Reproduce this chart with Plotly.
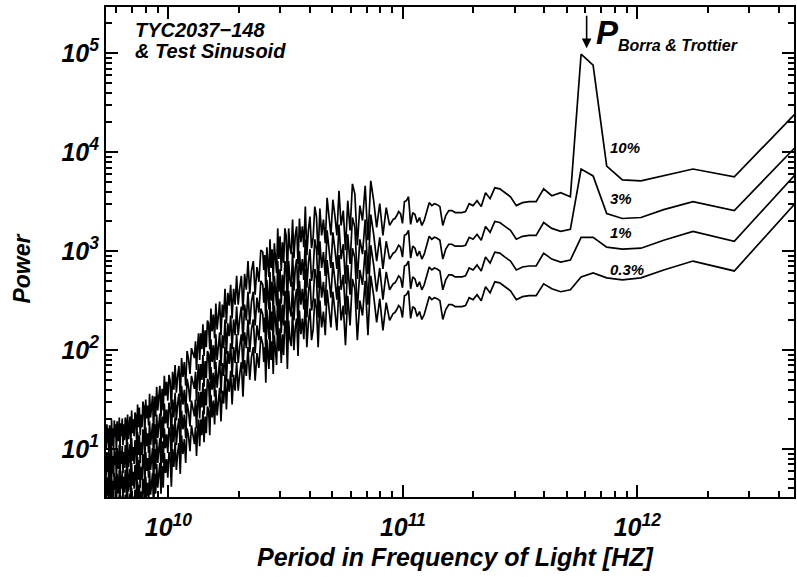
import plotly.graph_objects as go

# ---------------- data ----------------
F0 = 5.18e12  # frequency of harmonic 1 (Hz); harmonic k sits at F0 / k

harmonic = (list(range(1, 58)) + list(range(59, 102, 2)) + list(range(103, 206, 2))
            + list(range(209, 402, 4)) + list(range(413, 966, 6)))

# log10(Power)
logp_10 = [
    4.49, 3.75, 3.83, 3.76, 3.71, 3.72, 3.86, 4.88, 4.99, 3.55,
    3.59, 3.56, 3.63, 3.50, 3.50, 3.49, 3.46, 3.55, 3.59, 3.63,
    3.64, 3.53, 3.59, 3.45, 3.51, 3.46, 3.48, 3.40, 3.39, 3.39,
    3.39, 3.41, 3.41, 3.36, 3.26, 3.45, 3.47, 3.48, 3.46, 3.49,
    3.40, 3.31, 3.26, 3.34, 3.29, 3.37, 3.39, 3.27, 3.55, 3.51,
    3.50, 3.28, 3.38, 3.40, 3.36, 3.33, 3.32,
    3.26, 3.44, 3.16, 3.48, 3.24, 3.51, 3.71, 3.11, 3.66, 3.31, 3.46,
    3.06, 3.58, 3.68, 3.21, 3.51, 3.01, 3.41, 3.26, 3.61, 3.16, 3.36,
    3.52, 3.16, 3.38, 3.54, 3.08, 3.32, 3.16, 3.43, 2.96, 3.35,
    3.45, 3.14, 3.03, 3.35, 3.21, 2.96, 3.45, 3.04, 3.25, 3.09,
    3.33, 2.87, 3.25, 3.16, 2.93, 3.32, 2.97, 3.04, 3.23, 2.74,
    3.16, 3.23, 2.88, 3.09, 2.80, 3.15, 2.92, 3.23, 2.78, 2.99,
    3.08, 2.69, 3.02, 2.83, 3.12, 2.74, 2.93, 3.04, 2.60, 2.96,
    2.81, 2.99,
    3.01, 2.69, 2.84, 2.56, 2.90, 2.80, 2.57, 2.90, 2.61, 2.77,
    2.40, 2.75, 2.63, 2.46, 2.75, 2.46, 2.62, 2.32, 2.66, 2.45,
    2.58, 2.27, 2.62, 2.33, 2.46, 2.15, 2.49, 2.38, 2.21, 2.47,
    2.12, 2.36, 2.19, 2.42, 2.01, 2.27, 2.30, 2.03, 2.20, 1.94,
    2.26, 2.01, 2.17, 1.90, 2.17, 2.04, 1.80, 2.09, 1.92,
    2.02, 1.76, 1.91, 1.99, 1.64, 1.88, 1.73, 1.92, 1.53, 1.84,
    1.74, 1.57, 1.85, 1.60, 1.78, 1.40, 1.69, 1.75, 1.49, 1.68,
    1.54, 1.74, 1.39, 1.61, 1.33, 1.64, 1.53, 1.39, 1.63, 1.33,
    1.53, 1.16, 1.54, 1.46, 1.32, 1.56, 1.24, 1.44, 1.31, 1.50,
    1.14, 1.43, 1.48, 1.22, 1.35, 1.14, 1.42, 1.22, 1.45, 1.04,
    1.34, 1.37, 1.13, 1.30, 1.16, 1.39, 1.05, 1.33, 1.23, 1.10,
    1.35, 0.95, 1.28, 1.32, 1.09, 1.25, 1.04, 1.31, 1.13, 1.26,
    0.98, 1.32, 1.08, 1.20, 1.28, 0.94, 1.25, 1.12, 1.29, 1.00,
    1.21, 1.03, 1.30, 0.96, 1.18, 1.24, 0.93, 1.21, 1.06, 1.25,
    1.00, 1.21, 0.95,
]
logp_3 = [
    4.15, 3.41, 3.50, 3.42, 3.34, 3.33, 3.38, 3.76, 3.83, 3.22,
    3.20, 3.23, 3.29, 3.16, 3.16, 3.15, 3.12, 3.21, 3.25, 3.29,
    3.30, 3.19, 3.25, 3.11, 3.17, 3.12, 3.14, 3.06, 3.05, 3.05,
    3.05, 3.07, 3.07, 3.02, 2.92, 3.11, 3.13, 3.14, 3.12, 3.15,
    3.06, 2.97, 2.92, 3.00, 2.95, 3.03, 3.05, 2.93, 3.21, 3.17,
    3.16, 2.94, 3.04, 3.06, 3.02, 2.99, 2.98,
    2.92, 3.10, 2.82, 3.14, 2.90, 3.17, 3.37, 2.77, 3.32, 2.97, 3.12,
    2.72, 3.24, 3.34, 2.87, 3.17, 2.67, 3.07, 2.92, 3.27, 2.82, 3.02,
    3.19, 2.83, 3.05, 3.21, 2.75, 2.99, 2.83, 3.10, 2.63, 3.02,
    3.12, 2.81, 2.70, 3.02, 2.88, 2.63, 3.12, 2.71, 2.92, 2.76,
    3.00, 2.54, 2.92, 2.83, 2.60, 2.99, 2.64, 2.71, 2.90, 2.41,
    2.83, 2.90, 2.55, 2.76, 2.47, 2.82, 2.59, 2.90, 2.45, 2.66,
    2.75, 2.36, 2.69, 2.50, 2.79, 2.41, 2.60, 2.71, 2.27, 2.63,
    2.48, 2.66,
    2.70, 2.38, 2.53, 2.25, 2.59, 2.49, 2.26, 2.59, 2.30, 2.46,
    2.09, 2.44, 2.32, 2.15, 2.44, 2.15, 2.31, 2.01, 2.35, 2.14,
    2.27, 1.96, 2.31, 2.02, 2.15, 1.84, 2.18, 2.07, 1.90, 2.16,
    1.81, 2.05, 1.88, 2.11, 1.70, 1.96, 1.99, 1.72, 1.89, 1.63,
    1.95, 1.70, 1.86, 1.59, 1.86, 1.73, 1.49, 1.78, 1.61,
    1.74, 1.48, 1.63, 1.71, 1.36, 1.60, 1.45, 1.64, 1.25, 1.56,
    1.46, 1.29, 1.57, 1.32, 1.50, 1.12, 1.41, 1.47, 1.21, 1.40,
    1.26, 1.46, 1.11, 1.33, 1.05, 1.36, 1.25, 1.11, 1.35, 1.05,
    1.25, 0.88, 1.26, 1.18, 1.04, 1.28, 0.96, 1.16, 1.03, 1.22,
    0.86, 1.15, 1.20, 0.94, 1.07, 0.86, 1.14, 0.94, 1.17, 0.76,
    1.06, 1.09, 0.85, 1.02, 0.88, 1.11, 0.77, 1.05, 0.95, 0.82,
    1.07, 0.67, 1.00, 1.04, 0.81, 0.97, 0.76, 1.03, 0.85, 0.98,
    0.70, 1.04, 0.80, 0.92, 1.00, 0.66, 0.97, 0.84, 1.01, 0.72,
    0.93, 0.75, 1.02, 0.68, 0.90, 0.96, 0.65, 0.93, 0.78, 0.97,
    0.72, 0.93, 0.67,
]
logp_1 = [
    3.88, 3.10, 3.20, 3.11, 3.03, 3.02, 3.04, 3.14, 3.14, 2.91,
    2.89, 2.92, 2.98, 2.85, 2.85, 2.84, 2.81, 2.90, 2.94, 2.98,
    2.99, 2.88, 2.94, 2.80, 2.86, 2.81, 2.83, 2.75, 2.74, 2.74,
    2.74, 2.76, 2.76, 2.71, 2.61, 2.80, 2.82, 2.83, 2.81, 2.84,
    2.75, 2.66, 2.61, 2.69, 2.64, 2.72, 2.74, 2.62, 2.90, 2.86,
    2.85, 2.63, 2.73, 2.75, 2.71, 2.68, 2.67,
    2.61, 2.79, 2.51, 2.83, 2.59, 2.86, 3.06, 2.46, 3.01, 2.66, 2.81,
    2.41, 2.93, 3.03, 2.56, 2.86, 2.36, 2.76, 2.61, 2.96, 2.51, 2.71,
    2.89, 2.53, 2.75, 2.91, 2.45, 2.69, 2.53, 2.80, 2.33, 2.72,
    2.82, 2.51, 2.40, 2.72, 2.58, 2.33, 2.82, 2.41, 2.62, 2.46,
    2.70, 2.24, 2.62, 2.53, 2.30, 2.69, 2.34, 2.41, 2.60, 2.11,
    2.53, 2.60, 2.25, 2.46, 2.17, 2.52, 2.29, 2.60, 2.15, 2.36,
    2.45, 2.06, 2.39, 2.20, 2.49, 2.11, 2.30, 2.41, 1.97, 2.33,
    2.18, 2.36,
    2.42, 2.10, 2.25, 1.97, 2.31, 2.21, 1.98, 2.31, 2.02, 2.18,
    1.81, 2.16, 2.04, 1.87, 2.16, 1.87, 2.03, 1.73, 2.07, 1.86,
    1.99, 1.68, 2.03, 1.74, 1.87, 1.56, 1.90, 1.79, 1.62, 1.88,
    1.53, 1.77, 1.60, 1.83, 1.42, 1.68, 1.71, 1.44, 1.61, 1.35,
    1.67, 1.42, 1.58, 1.31, 1.58, 1.45, 1.21, 1.50, 1.33,
    1.49, 1.23, 1.38, 1.46, 1.11, 1.35, 1.20, 1.39, 1.00, 1.31,
    1.21, 1.04, 1.32, 1.07, 1.25, 0.87, 1.16, 1.22, 0.96, 1.15,
    1.01, 1.21, 0.86, 1.08, 0.80, 1.11, 1.00, 0.86, 1.10, 0.80,
    1.00, 0.63, 1.01, 0.93, 0.79, 1.03, 0.71, 0.91, 0.78, 0.97,
    0.61, 0.90, 0.95, 0.69, 0.82, 0.61, 0.89, 0.69, 0.92, 0.51,
    0.81, 0.84, 0.60, 0.77, 0.63, 0.86, 0.52, 0.80, 0.70, 0.57,
    0.82, 0.42, 0.75, 0.79, 0.56, 0.72, 0.51, 0.78, 0.60, 0.73,
    0.45, 0.79, 0.55, 0.67, 0.75, 0.41, 0.72, 0.59, 0.76, 0.47,
    0.68, 0.50, 0.77, 0.43, 0.65, 0.71, 0.40, 0.68, 0.53, 0.72,
    0.47, 0.68, 0.42,
]
logp_03 = [
    3.59, 2.80, 2.90, 2.81, 2.73, 2.71, 2.73, 2.78, 2.74, 2.61,
    2.59, 2.62, 2.67, 2.55, 2.55, 2.54, 2.51, 2.60, 2.64, 2.68,
    2.69, 2.58, 2.64, 2.50, 2.56, 2.51, 2.53, 2.45, 2.44, 2.44,
    2.44, 2.46, 2.46, 2.41, 2.31, 2.50, 2.52, 2.53, 2.51, 2.54,
    2.45, 2.36, 2.31, 2.39, 2.34, 2.42, 2.44, 2.32, 2.60, 2.56,
    2.55, 2.33, 2.43, 2.45, 2.41, 2.38, 2.37,
    2.30, 2.48, 2.20, 2.52, 2.28, 2.55, 2.75, 2.15, 2.70, 2.35, 2.50,
    2.10, 2.62, 2.72, 2.25, 2.55, 2.05, 2.45, 2.30, 2.65, 2.20, 2.40,
    2.59, 2.23, 2.45, 2.61, 2.15, 2.39, 2.23, 2.50, 2.03, 2.42,
    2.52, 2.21, 2.10, 2.42, 2.28, 2.03, 2.52, 2.11, 2.32, 2.16,
    2.40, 1.94, 2.32, 2.23, 2.00, 2.39, 2.04, 2.11, 2.30, 1.81,
    2.23, 2.30, 1.95, 2.16, 1.87, 2.22, 1.99, 2.30, 1.85, 2.06,
    2.15, 1.76, 2.09, 1.90, 2.19, 1.81, 2.00, 2.11, 1.67, 2.03,
    1.88, 2.06,
    2.14, 1.82, 1.97, 1.69, 2.03, 1.93, 1.70, 2.03, 1.74, 1.90,
    1.53, 1.88, 1.76, 1.59, 1.88, 1.59, 1.75, 1.45, 1.79, 1.58,
    1.71, 1.40, 1.75, 1.46, 1.59, 1.28, 1.62, 1.51, 1.34, 1.60,
    1.25, 1.49, 1.32, 1.55, 1.14, 1.40, 1.43, 1.16, 1.33, 1.07,
    1.39, 1.14, 1.30, 1.03, 1.30, 1.17, 0.93, 1.22, 1.05,
    1.24, 0.98, 1.13, 1.21, 0.86, 1.10, 0.95, 1.14, 0.75, 1.06,
    0.96, 0.79, 1.07, 0.82, 1.00, 0.62, 0.91, 0.97, 0.71, 0.90,
    0.76, 0.96, 0.61, 0.83, 0.55, 0.86, 0.75, 0.61, 0.85, 0.55,
    0.75, 0.38, 0.76, 0.68, 0.54, 0.78, 0.46, 0.66, 0.53, 0.72,
    0.36, 0.65, 0.70, 0.44, 0.57, 0.36, 0.64, 0.44, 0.67, 0.26,
    0.56, 0.59, 0.35, 0.52, 0.38, 0.61, 0.27, 0.55, 0.45, 0.32,
    0.57, 0.17, 0.50, 0.54, 0.31, 0.47, 0.26, 0.53, 0.35, 0.48,
    0.20, 0.54, 0.30, 0.42, 0.50, 0.16, 0.47, 0.34, 0.51, 0.22,
    0.43, 0.25, 0.52, 0.18, 0.40, 0.46, 0.15, 0.43, 0.28, 0.47,
    0.22, 0.43, 0.17,
]

series_names = ["10%", "3%", "1%", "0.3%"]
series_logp = [logp_10, logp_3, logp_1, logp_03]

x_tick_vals = [1e10, 1e11, 1e12]
x_tick_text = ["10<sup>10</sup>", "10<sup>11</sup>", "10<sup>12</sup>"]
y_tick_vals = [1e1, 1e2, 1e3, 1e4, 1e5]
y_tick_text = ["10<sup>1</sup>", "10<sup>2</sup>", "10<sup>3</sup>", "10<sup>4</sup>", "10<sup>5</sup>"]

# ---------------- figure ----------------
FONT = "Liberation Sans Narrow, Arial Narrow, Liberation Sans, Arial, sans-serif"


def f(size):
    return dict(family=FONT, size=size, color="black", weight="bold", style="italic")


freq = [F0 / k for k in harmonic]
fig = go.Figure()
for name, lp in zip(series_names, series_logp):
    fig.add_trace(go.Scatter(x=freq, y=[10 ** v for v in lp], mode="lines", name=name,
                             line=dict(color="black", width=1.7), showlegend=False,
                             hoverinfo="skip"))

x_minor = [m * 10 ** e for e in (9, 10, 11, 12) for m in range(2, 10)]
y_minor = [m * 10 ** e for e in (0, 1, 2, 3, 4, 5) for m in range(2, 10)]

axis_common = dict(type="log", showline=True, linecolor="black", linewidth=2,
                   mirror="ticks", ticks="inside", ticklen=12, tickwidth=1.5,
                   tickcolor="black", showgrid=False, zeroline=False)

fig.update_layout(
    width=797, height=577,
    margin=dict(l=106, r=1, t=7, b=80),
    paper_bgcolor="white", plot_bgcolor="white",
    xaxis=dict(**axis_common, range=[9.734, 12.668],
               tickmode="array", tickvals=x_tick_vals, ticktext=x_tick_text,
               tickfont=f(25), ticklabelstandoff=7,
               minor=dict(tickmode="array", tickvals=x_minor, ticks="inside",
                          ticklen=6, tickwidth=1.5, tickcolor="black", showgrid=False)),
    yaxis=dict(**axis_common, range=[0.516, 5.467],
               tickmode="array", tickvals=y_tick_vals, ticktext=y_tick_text,
               tickfont=f(25), ticklabelstandoff=0,
               minor=dict(tickmode="array", tickvals=y_minor, ticks="inside",
                          ticklen=6, tickwidth=1.5, tickcolor="black", showgrid=False)),
)

ann = [
    dict(text="Period in Frequency of Light [HZ]", x=0.5087, y=-0.1216,
         xanchor="center", font=f(25)),
    dict(text="Power", x=-0.1217, y=0.4668, xanchor="center", textangle=-90, font=f(23)),
    dict(text="TYC2037\u2212148", x=0.039, y=0.954, font=f(20)),
    dict(text="& Test Sinusoid", x=0.039, y=0.910, font=f(20)),
    dict(text="P<sub><span style='font-size:16px'>Borra & Trottier</span></sub>",
         x=0.710, y=0.945, font=f(33)),
    dict(text="10%", x=0.730, y=0.713, font=f(15)),
    dict(text="3%", x=0.730, y=0.610, font=f(15)),
    dict(text="1%", x=0.730, y=0.539, font=f(15)),
    dict(text="0.3%", x=0.730, y=0.465, font=f(15)),
]
for a in ann:
    a.setdefault("xanchor", "left")
    fig.add_annotation(xref="paper", yref="paper", yanchor="middle",
                       showarrow=False, **a)

fig.add_annotation(xref="paper", yref="paper", x=0.6986, y=0.916, ax=0, ay=-34,
                   text="", showarrow=True, arrowhead=2, arrowsize=1.2,
                   arrowwidth=1.6, arrowcolor="black")

fig.write_html("out.html")
